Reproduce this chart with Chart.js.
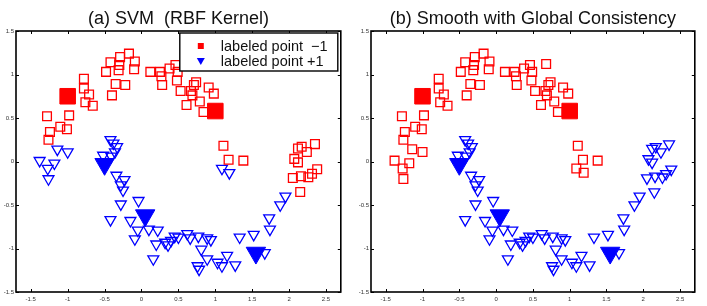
<!DOCTYPE html>
<html>
<head>
<meta charset="utf-8">
<script src="https://cdn.jsdelivr.net/npm/chart.js@4"></script>
<style>
  body { margin: 0; background: #fff; }
  #wrap { display: flex; width: 707px; height: 306px; }
  canvas { display: block; }
</style>
</head>
<body>
<div id="wrap">
  <canvas id="chart-svm" width="353" height="306"></canvas>
  <canvas id="chart-lgc" width="354" height="306"></canvas>
</div>
<script>
const xTicks = [-1.5, -1, -0.5, 0, 0.5, 1, 1.5, 2, 2.5];
const yTicks = [-1.5, -1, -0.5, 0, 0.5, 1, 1.5];

// unlabeled points, same in both panels, grouped by where they sit
const upperMoon = [
  [-1.26, 0.25], [-1.24, 0.34], [-1.28, 0.52], [-1.10, 0.40], [-1.01, 0.37], [-0.98, 0.53],
  [-0.78, 0.95], [-0.78, 0.84], [-0.71, 0.77], [-0.76, 0.68], [-0.66, 0.64],
  [-0.48, 1.03], [-0.42, 1.14], [-0.30, 1.11], [-0.31, 1.05], [-0.29, 1.20], [-0.17, 1.24],
  [-0.09, 1.15], [-0.10, 1.06], [-0.35, 0.89], [-0.22, 0.88], [-0.40, 0.76],
  [0.12, 1.03], [0.25, 1.03], [0.27, 0.98], [0.28, 0.88], [0.38, 1.07], [0.46, 1.11],
  [0.49, 1.03], [0.48, 0.93], [0.53, 0.81], [0.67, 0.81], [0.71, 0.88], [0.74, 0.91],
  [0.69, 0.76], [0.61, 0.65], [0.79, 0.69], [0.84, 0.57], [0.91, 0.85], [0.98, 0.78],
  [0.68, 1.12], [1.11, 0.18], [1.18, 0.02], [1.38, 0.01]
];
const lowerMoon = [
  [-0.42, 0.25], [-0.38, 0.21], [-0.33, 0.17], [-0.36, 0.11], [-0.52, 0.07], [-0.41, 0.06],
  [-0.34, -0.16], [-0.23, -0.21], [-0.28, -0.27], [-0.25, -0.33], [-0.28, -0.49], [-0.04, -0.45],
  [-0.42, -0.67], [-0.15, -0.68], [-0.05, -0.79], [-0.09, -0.89], [0.10, -0.78], [0.22, -0.79],
  [0.20, -0.95], [0.16, -1.12], [0.32, -0.93], [0.36, -0.96], [0.40, -0.91], [0.45, -0.86],
  [0.50, -0.87], [0.62, -0.83], [0.66, -0.88], [0.77, -0.86], [0.89, -0.88], [0.94, -0.90],
  [0.81, -1.01], [0.89, -1.12], [0.76, -1.20], [0.78, -1.24], [1.03, -1.16], [1.09, -1.20],
  [1.16, -1.08], [1.27, -1.19], [1.33, -0.87], [1.52, -0.84], [1.67, -1.05], [1.73, -0.65],
  [1.74, -0.78], [1.88, -0.50], [1.95, -0.40]
];
const leftTip = [[-1.38, 0.01], [-1.18, -0.02], [-1.27, -0.08], [-1.26, -0.20], [-1.14, 0.14], [-1.00, 0.11]];
const rightTip = [
  [2.12, 0.15], [2.17, 0.17], [2.24, 0.11], [2.35, 0.20], [2.07, 0.03], [2.12, -0.01],
  [2.38, -0.09], [2.31, -0.14], [2.26, -0.18], [2.16, -0.17], [2.05, -0.19], [2.15, -0.35]
];
const midPair = [[1.09, -0.08], [1.19, -0.13]];

// the labeled points
const labeledNeg = [[-1.0, 0.75], [1.0, 0.58]];
const labeledPos = [[-0.5, -0.03], [0.05, -0.62], [1.55, -1.05]];

const RED = '#ff0000';
const BLUE = '#0000ff';
const FONT = '"Liberation Sans", Arial, Helvetica, sans-serif';

function pts(...groups) {
    return groups.flat().map(([x, y]) => ({ x: x, y: y }));
}

// MATLAB style box with inward ticks, plus the legend box
const framePlugin = {
    id: 'frame',
    afterDraw(chart, args, opts) {
        const ctx = chart.ctx;
        const a = chart.chartArea;
        const sx = chart.scales.x, sy = chart.scales.y;
        ctx.save();
        ctx.strokeStyle = '#000';
        ctx.lineWidth = 1;
        ctx.beginPath();
        xTicks.forEach(v => {
            const px = Math.round(sx.getPixelForValue(v)) + 0.5;
            ctx.moveTo(px, a.bottom); ctx.lineTo(px, a.bottom - 3);
            ctx.moveTo(px, a.top); ctx.lineTo(px, a.top + 3);
        });
        yTicks.forEach(v => {
            const py = Math.round(sy.getPixelForValue(v)) + 0.5;
            ctx.moveTo(a.left, py); ctx.lineTo(a.left + 3, py);
            ctx.moveTo(a.right, py); ctx.lineTo(a.right - 3, py);
        });
        ctx.stroke();
        ctx.lineWidth = 1.6;
        ctx.strokeRect(a.left, a.top, a.right - a.left, a.bottom - a.top);

        if (opts.legend) {
            const w = 158, h = 38;
            const lx = a.right - 3 - w, ly = a.top + 2;
            ctx.fillStyle = '#fff';
            ctx.fillRect(lx, ly, w, h);
            ctx.lineWidth = 1.4;
            ctx.strokeRect(lx, ly, w, h);
            const items = chart.data.datasets.filter(d => d.inLegend);
            items.forEach((d, i) => {
                const cy = ly + 13 + i * 15;
                const cx = lx + 21;
                ctx.fillStyle = d.backgroundColor;
                ctx.beginPath();
                if (d.pointStyle === 'rect') {
                    ctx.rect(cx - 3, cy - 3, 6, 6);
                } else {
                    ctx.moveTo(cx - 4, cy - 3);
                    ctx.lineTo(cx + 4, cy - 3);
                    ctx.lineTo(cx, cy + 4);
                    ctx.closePath();
                }
                ctx.fill();
                ctx.fillStyle = '#111';
                ctx.font = '14.5px ' + FONT;
                ctx.textBaseline = 'middle';
                ctx.textAlign = 'left';
                ctx.fillText(d.label, lx + 41, cy + 1);
            });
        }
        ctx.restore();
    }
};

function makeChart(id, title, negGroups, posGroups, pad, axisWidth, legend) {
    new Chart(document.getElementById(id), {
        type: 'scatter',
        data: {
            datasets: [{
                label: 'unlabeled -1',
                data: pts(...negGroups),
                pointStyle: 'rect',
                pointRadius: 6.2,
                borderColor: RED,
                backgroundColor: 'rgba(0,0,0,0)',
                borderWidth: 1.3
            }, {
                label: 'unlabeled +1',
                data: pts(...posGroups),
                pointStyle: 'triangle',
                rotation: 180,
                pointRadius: 6.3,
                borderColor: BLUE,
                backgroundColor: 'rgba(0,0,0,0)',
                borderWidth: 1.3
            }, {
                label: 'labeled point  \u22121',
                inLegend: true,
                data: pts(labeledNeg),
                pointStyle: 'rect',
                pointRadius: 11,
                borderColor: RED,
                backgroundColor: RED,
                borderWidth: 1
            }, {
                label: 'labeled point +1',
                inLegend: true,
                data: pts(labeledPos),
                pointStyle: 'triangle',
                rotation: 180,
                pointRadius: 11.2,
                borderColor: BLUE,
                backgroundColor: BLUE,
                borderWidth: 1
            }]
        },
        options: {
            responsive: false,
            animation: false,
            events: [],
            layout: { padding: pad },
            scales: {
                x: {
                    type: 'linear',
                    min: -1.7,
                    max: 2.7,
                    afterBuildTicks: s => { s.ticks = xTicks.map(v => ({ value: v })); },
                    afterFit: s => { s.height = 14; },
                    grid: { display: false, drawTicks: false },
                    border: { display: false },
                    ticks: {
                        padding: 4,
                        color: '#333',
                        font: { family: FONT, size: 6 },
                        maxRotation: 0,
                        autoSkip: false,
                        callback: v => String(v)
                    }
                },
                y: {
                    type: 'linear',
                    min: -1.5,
                    max: 1.5,
                    afterBuildTicks: s => { s.ticks = yTicks.map(v => ({ value: v })); },
                    afterFit: s => { s.width = axisWidth; },
                    grid: { display: false, drawTicks: false },
                    border: { display: false },
                    ticks: {
                        padding: 2,
                        color: '#333',
                        font: { family: FONT, size: 6 },
                        autoSkip: false,
                        callback: v => String(v)
                    }
                }
            },
            plugins: {
                legend: { display: false },
                tooltip: { enabled: false },
                title: {
                    display: true,
                    fullSize: false,
                    text: title,
                    color: '#111',
                    font: { family: FONT, size: 18, weight: 'normal' },
                    padding: { top: 8, bottom: 1.4 }
                },
                frame: { legend: legend }
            }
        },
        plugins: [framePlugin]
    });
}

makeChart('chart-svm', '(a) SVM  (RBF Kernel)',
    [upperMoon, rightTip], [lowerMoon, leftTip, midPair],
    { left: 0, right: 8, top: 0, bottom: 0 }, 16, true);

makeChart('chart-lgc', '(b) Smooth with Global Consistency',
    [upperMoon, leftTip, midPair], [lowerMoon, rightTip],
    { left: 0, right: 6, top: 0, bottom: 0 }, 18, false);
</script>
</body>
</html>
